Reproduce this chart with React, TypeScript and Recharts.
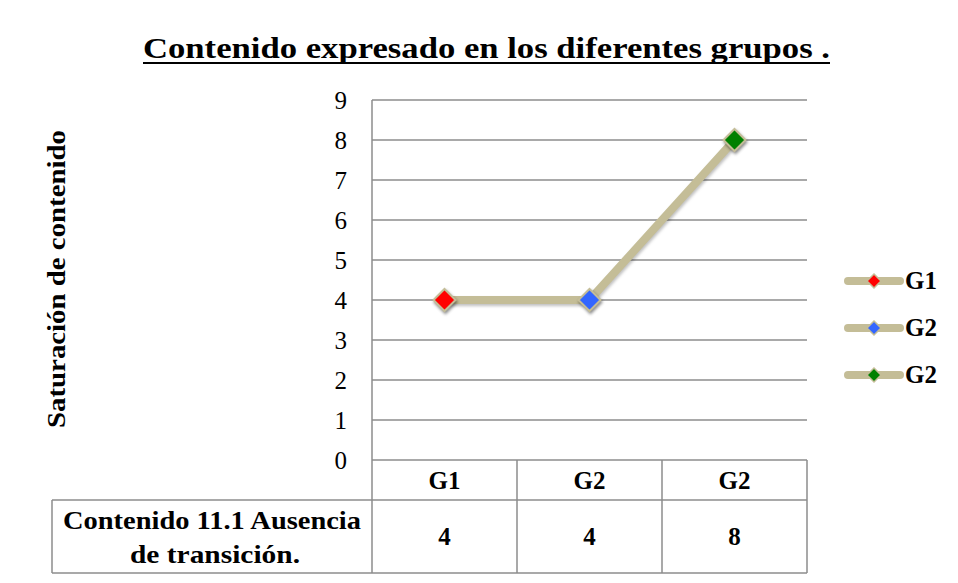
import React from 'react';
import { LineChart, Line, XAxis, YAxis, CartesianGrid } from 'recharts';

const categories = ['G1', 'G2', 'G2'];
const values = [4, 4, 8];
const pointColors = ['#FF0000', '#3366FF', '#008000'];
const yTicks = [0, 1, 2, 3, 4, 5, 6, 7, 8, 9];
const rowLabel = ['Contenido 11.1 Ausencia', 'de transición.'];
const title = 'Contenido expresado en los diferentes grupos .';
const yLabel = 'Saturación de contenido';

const data = categories.map((c, i) => ({ name: c, value: values[i] }));

const FONT = '"Liberation Serif", "DejaVu Serif", serif';
const LINE = '#C4BD97';
const GRID = '#8C8C8C';
const BAND = 145;

const Diamond = (props: any) => {
  const { cx, cy, index } = props;
  if (cx == null || cy == null) return null;
  const r = 11;
  return (
    <path
      key={'d' + index}
      d={`M${cx},${cy - r} L${cx + r},${cy} L${cx},${cy + r} L${cx - r},${cy} Z`}
      fill={pointColors[index]}
      stroke={LINE}
      strokeWidth={2}
      style={{ filter: 'drop-shadow(1px 2px 1.5px rgba(0,0,0,0.45))' }}
    />
  );
};

const TableTick = (props: any) => {
  const { x, index, payload } = props;
  const top = 460;
  const mid = 500;
  const bot = 573;
  const left = x - BAND / 2;
  const right = x + BAND / 2;
  const v = values[index];
  const tstyle = { fontFamily: FONT, fontWeight: 'bold' as const, fontSize: 25, fill: '#000' };
  return (
    <g>
      <line x1={right} y1={top} x2={right} y2={bot} stroke={GRID} strokeWidth={1.5} />
      <line x1={left} y1={mid} x2={right} y2={mid} stroke={GRID} strokeWidth={1.5} />
      <line x1={left} y1={bot} x2={right} y2={bot} stroke={GRID} strokeWidth={1.5} />
      <text x={x} y={489} textAnchor="middle" style={tstyle}>
        {payload.value}
      </text>
      <text x={x} y={545} textAnchor="middle" style={tstyle}>
        {v}
      </text>
      {index === 0 && (
        <g>
          <line x1={52} y1={mid} x2={left} y2={mid} stroke={GRID} strokeWidth={1.5} />
          <line x1={52} y1={bot} x2={left} y2={bot} stroke={GRID} strokeWidth={1.5} />
          <line x1={52} y1={mid} x2={52} y2={bot} stroke={GRID} strokeWidth={1.5} />
          <line x1={left} y1={top} x2={left} y2={bot} stroke={GRID} strokeWidth={1.5} />
          <text x={(52 + left) / 2} y={529} textAnchor="middle" textLength={298} lengthAdjust="spacingAndGlyphs" style={tstyle}>
            {rowLabel[0]}
          </text>
          <text x={(52 + left) / 2 + 3} y={563} textAnchor="middle" textLength={170} lengthAdjust="spacingAndGlyphs" style={tstyle}>
            {rowLabel[1]}
          </text>
        </g>
      )}
    </g>
  );
};

const YTick = (props: any) => {
  const { y, payload } = props;
  return (
    <text x={347} y={y + 9} textAnchor="end" style={{ fontFamily: FONT, fontSize: 25, fill: '#000' }}>
      {payload.value}
    </text>
  );
};

const LegendBox = () => (
  <div style={{ position: 'absolute', left: 843, top: 257, fontFamily: FONT }}>
    {categories.map((c, i) => (
      <div key={i} style={{ display: 'flex', alignItems: 'center', height: 47 }}>
        <svg width={62} height={24} style={{ display: 'block' }}>
          <line x1={5} y1={12} x2={57} y2={12} stroke={LINE} strokeWidth={8} strokeLinecap="round" />
          <path d="M31,5 L38,12 L31,19 L24,12 Z" fill={pointColors[i]} stroke={LINE} strokeWidth={1.5} />
        </svg>
        <span style={{ fontWeight: 'bold', fontSize: 25, color: '#000', marginLeft: 0, lineHeight: '24px' }}>{c}</span>
      </div>
    ))}
  </div>
);

export default function App() {
  return (
    <div style={{ position: 'absolute', left: 0, top: 0, width: 958, height: 583, background: '#fff' }}>
      <div style={{ position: 'absolute', left: 0, top: 0 }}>
        <LineChart width={958} height={583} data={data} margin={{ top: 100, right: 151, bottom: 10, left: 312 }}>
          <CartesianGrid vertical={false} stroke={GRID} strokeWidth={1.5} />
          <XAxis
            dataKey="name"
            padding={{ left: BAND / 2, right: BAND / 2 }}
            axisLine={false}
            tickLine={false}
            height={113}
            tick={<TableTick />}
            interval={0}
          />
          <YAxis
            domain={[0, 9]}
            ticks={yTicks}
            width={60}
            axisLine={{ stroke: GRID, strokeWidth: 1.5 }}
            tickLine={false}
            tick={<YTick />}
            interval={0}
          />
          <Line
            type="linear"
            dataKey="value"
            stroke={LINE}
            strokeWidth={8}
            dot={<Diamond />}
            activeDot={false}
            isAnimationActive={false}
            style={{ filter: 'drop-shadow(1px 2px 1.5px rgba(0,0,0,0.25))' }}
          />
        </LineChart>
      </div>
      <svg width={958} height={583} style={{ position: 'absolute', left: 0, top: 0, pointerEvents: 'none' }}>
        <text
          x={486.5}
          y={58}
          textAnchor="middle"
          textLength={687}
          lengthAdjust="spacingAndGlyphs"
          style={{ fontFamily: FONT, fontWeight: 'bold', fontSize: 30, fill: '#000' }}
        >
          {title}
        </text>
        <line x1={143} y1={63} x2={830} y2={63} stroke="#000" strokeWidth={2} />
        <text
          x={0}
          y={0}
          transform="translate(65,279) rotate(-90)"
          textAnchor="middle"
          textLength={298}
          lengthAdjust="spacingAndGlyphs"
          style={{ fontFamily: FONT, fontWeight: 'bold', fontSize: 26, fill: '#000' }}
        >
          {yLabel}
        </text>
      </svg>
      <LegendBox />
    </div>
  );
}
